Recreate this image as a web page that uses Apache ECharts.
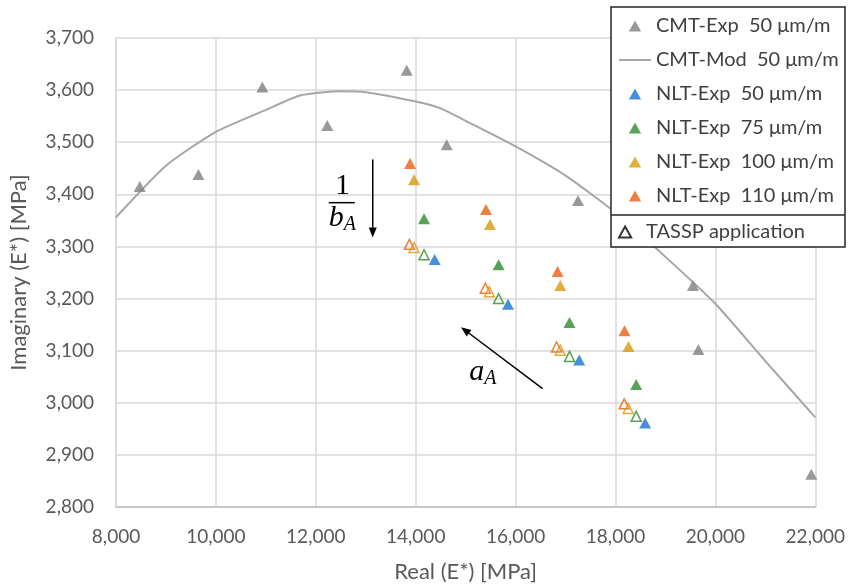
<!DOCTYPE html>
<html lang="en">
<head>
<meta charset="UTF-8">
<title>Complex modulus - CMT vs NLT</title>
<script src="https://cdn.jsdelivr.net/npm/echarts@6/dist/echarts.min.js"></script>
<style>
  html, body { margin: 0; padding: 0; background: #fff; }
  #main { width: 848px; height: 588px; }
</style>
</head>
<body>
<div id="main"></div>
<script>
// axis ranges
var xMin = 8000, xMax = 22000, xStep = 2000;
var yMin = 2800, yMax = 3700, yStep = 100;

// [Real, Imaginary] in MPa
var cmtExp = [[8475, 3415], [9650, 3438], [10930, 3606], [12230, 3532], [13820, 3638],
              [14620, 3495], [17250, 3388], [19550, 3225], [19660, 3102], [21920, 2863]];
var cmtMod = [[8000, 3356], [9000, 3455], [10000, 3520], [11000, 3562], [11700, 3590],
              [12500, 3598], [13000, 3596], [14000, 3578], [14500, 3565], [15000, 3541],
              [16000, 3492], [17000, 3436], [18000, 3365], [19000, 3280], [20000, 3190],
              [21000, 3080], [22000, 2972]];
var nlt50  = [[14380, 3275], [15848, 3189], [17274, 3082], [18594, 2961]];
var nlt75  = [[14167, 3353], [15660, 3265], [17080, 3154], [18414, 3035]];
var nlt100 = [[13967, 3428], [15487, 3342], [16894, 3225], [18260, 3108]];
var nlt110 = [[13887, 3459], [15407, 3371], [16840, 3252], [18180, 3138]];
// TASSP application (hollow markers)
var tassp75  = [[14167, 3284], [15660, 3200], [17080, 3089], [18414, 2974]];
var tassp100 = [[13967, 3298], [15474, 3213], [16894, 3101], [18254, 2989]];
var tassp110 = [[13874, 3304], [15394, 3220], [16820, 3107], [18174, 2998]];

var GRAY = '#808080', LINE = '#A6A6A6';
var BLUE = '#1A73D2', GREEN = '#2E8B2E', YELLOW = '#D9980A', ORANGE = '#E8600F';
var FONT = 'Lato, "Open Sans", sans-serif';
var SERIF = '"Liberation Serif", "DejaVu Serif", serif';
// triangle as a path so the legend keeps its aspect inside a wide icon box
var TRI_ICON = 'path://M5,0L10,9L0,9Z';

var chart = echarts.init(document.getElementById('main'));

function fmt(v) { return echarts.format.addCommas(v); }

function tri(name, data, color) {
    return {
        name: name, type: 'scatter', data: data,
        symbol: 'triangle', symbolSize: [12, 11],
        itemStyle: { color: color },
        emphasis: { disabled: true }, z: 2
    };
}

function hollow(data, color) {
    return data.map(function (p) { return { value: p, itemStyle: { borderColor: color } }; });
}

var tasspData = [].concat(hollow(tassp110, ORANGE), hollow(tassp100, YELLOW), hollow(tassp75, GREEN));

var legendNames = ['CMT-Exp  50 μm/m', 'CMT-Mod  50 μm/m', 'NLT-Exp  50 μm/m',
                   'NLT-Exp  75 μm/m', 'NLT-Exp  100 μm/m', 'NLT-Exp  110 μm/m'];

var legendBase = {
    orient: 'vertical', left: 611, itemWidth: 32, itemHeight: 11, itemGap: 14,
    symbolKeepAspect: true, selectedMode: false,
    textStyle: { fontFamily: FONT, fontSize: 20, color: '#404040', lineHeight: 20 }
};

var legendData = legendNames.map(function (n) {
    // line entry: hide the little marker, keep the line
    return n.indexOf('Mod') > 0 ? { name: n, itemStyle: { opacity: 0 } } : { name: n, icon: TRI_ICON };
});

chart.setOption({
    animation: false,
    grid: { left: 116, right: 32, top: 38, bottom: 81 },
    xAxis: {
        type: 'value', min: xMin, max: xMax, interval: xStep,
        name: 'Real (E*) [MPa]', nameLocation: 'middle', nameGap: 54,
        nameTextStyle: { fontFamily: FONT, fontSize: 22, color: '#595959' },
        axisLine: { show: true, lineStyle: { color: '#BFBFBF', width: 1.5 } },
        axisTick: { show: false },
        axisLabel: { margin: 20, fontFamily: FONT, fontSize: 19, color: '#595959', formatter: fmt },
        splitLine: { show: true, lineStyle: { color: '#D9D9D9', width: 1.5 } }
    },
    yAxis: {
        type: 'value', min: yMin, max: yMax, interval: yStep,
        name: 'Imaginary (E*) [MPa]', nameLocation: 'middle', nameGap: 86,
        nameTextStyle: { fontFamily: FONT, fontSize: 22, color: '#595959' },
        axisLine: { show: true, lineStyle: { color: '#D9D9D9', width: 1.5 } },
        axisTick: { show: false },
        axisLabel: { margin: 22, fontFamily: FONT, fontSize: 19, color: '#595959', formatter: fmt },
        splitLine: { show: true, lineStyle: { color: '#D9D9D9', width: 1.5 } }
    },
    legend: [
        Object.assign({}, legendBase, { top: 7, padding: [9, 10, 7, 7], data: legendData }),
        Object.assign({}, legendBase, { top: 216, padding: [6, 10, 6, 7],
            data: [{ name: 'TASSP application', icon: TRI_ICON }] })
    ],
    series: [
        {
            name: 'CMT-Mod  50 μm/m', type: 'line', data: cmtMod,
            symbol: 'none', smooth: 0.2,
            lineStyle: { color: LINE, width: 2 }, itemStyle: { color: LINE },
            emphasis: { disabled: true }, z: 1
        },
        tri('CMT-Exp  50 μm/m', cmtExp, GRAY),
        tri('NLT-Exp  50 μm/m', nlt50, BLUE),
        tri('NLT-Exp  75 μm/m', nlt75, GREEN),
        tri('NLT-Exp  100 μm/m', nlt100, YELLOW),
        tri('NLT-Exp  110 μm/m', nlt110, ORANGE),
        {
            name: 'TASSP application', type: 'scatter', data: tasspData,
            symbol: 'triangle', symbolSize: [10, 10],
            itemStyle: { color: 'rgba(255,255,255,0)', borderColor: '#000', borderWidth: 1.5 },
            emphasis: { disabled: true }, z: 2
        }
    ]
});

// annotations, anchored in data units
function px(p) { return chart.convertToPixel({ gridIndex: 0 }, p); }

function arrow(from, to) {
    var a = px(from), b = px(to);
    var ang = Math.atan2(b[1] - a[1], b[0] - a[0]);
    var len = 10, half = 4;
    var bx = b[0] - len * Math.cos(ang), by = b[1] - len * Math.sin(ang);
    var nx = -Math.sin(ang) * half, ny = Math.cos(ang) * half;
    return [
        { type: 'line', z: 5, shape: { x1: a[0], y1: a[1], x2: bx, y2: by },
          style: { stroke: '#000', lineWidth: 1.5 } },
        { type: 'polygon', z: 5, shape: { points: [[b[0], b[1]], [bx + nx, by + ny], [bx - nx, by - ny]] },
          style: { fill: '#000' } }
    ];
}

var one = px([12534, 3415]);
var barL = px([12260, 3384]), barR = px([12780, 3384]);
var bA = px([12260, 3354]);
var aA = px([15074, 3058]);

var elements = [
    { type: 'rect', z: 3, shape: { x: 611, y: 7, width: 234, height: 240 },
      style: { fill: '#fff', stroke: '#262626', lineWidth: 1.5 } },
    { type: 'line', z: 3, shape: { x1: 611, y1: 215, x2: 845, y2: 215 },
      style: { stroke: '#262626', lineWidth: 1.5 } },
    { type: 'text', z: 5, x: one[0], y: one[1],
      style: { text: '1', font: '30px ' + SERIF, fill: '#000', align: 'center', verticalAlign: 'middle' } },
    { type: 'line', z: 5, shape: { x1: barL[0], y1: barL[1], x2: barR[0], y2: barR[1] },
      style: { stroke: '#000', lineWidth: 1.5 } },
    { type: 'text', z: 5, x: bA[0], y: bA[1],
      style: { text: '{v|b}{s|A}', verticalAlign: 'middle', fill: '#000',
               rich: { v: { font: 'italic 30px ' + SERIF, fill: '#000' },
                       s: { font: 'italic 20px ' + SERIF, fill: '#000', padding: [12, 0, 0, 0] } } } },
    { type: 'text', z: 5, x: aA[0], y: aA[1],
      style: { text: '{v|a}{s|A}', verticalAlign: 'middle', fill: '#000',
               rich: { v: { font: 'italic 30px ' + SERIF, fill: '#000' },
                       s: { font: 'italic 20px ' + SERIF, fill: '#000', padding: [12, 0, 0, 0] } } } }
].concat(arrow([13140, 3467], [13140, 3317]), arrow([16540, 3027], [14908, 3145]));

chart.setOption({ graphic: { elements: elements } });
</script>
</body>
</html>
